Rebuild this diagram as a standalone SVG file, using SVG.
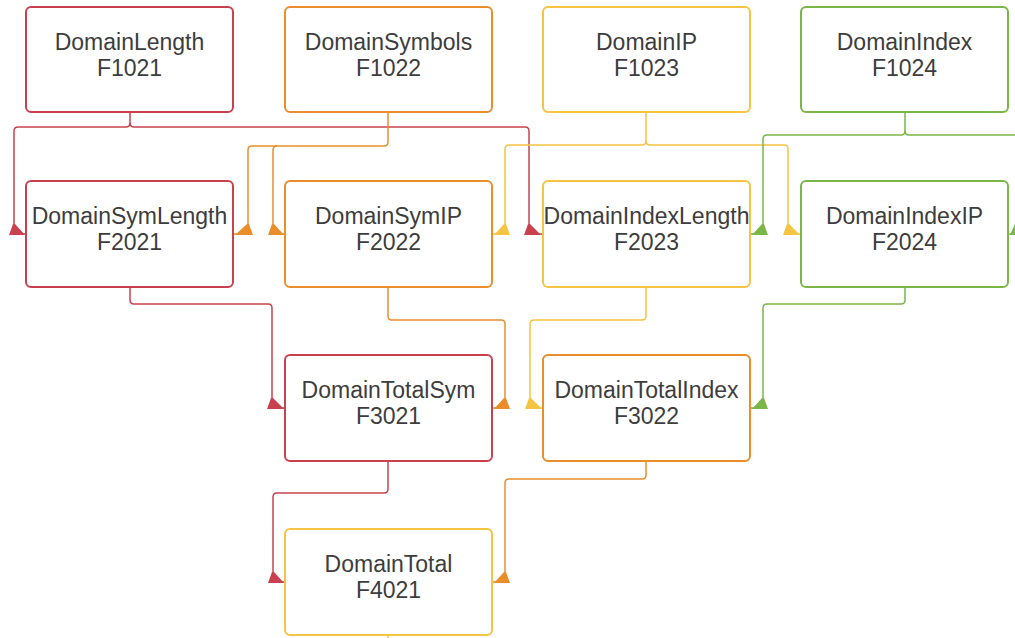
<svg xmlns="http://www.w3.org/2000/svg" width="1015" height="638" viewBox="0 0 1015 638">
  <style>
    .box { fill: #ffffff; stroke-width: 2; }
    .lbl { font-family: "Liberation Sans", Arial, sans-serif; font-size: 23px; fill: #3d3d3d; text-anchor: middle; }
    .wire { fill: none; stroke-width: 1.5; stroke-linejoin: round; }
    .red { stroke: #c9414e; }
    .org { stroke: #e98e2a; }
    .yel { stroke: #f6c443; }
    .grn { stroke: #7ab648; }
    .fred { fill: #c9414e; }
    .forg { fill: #e98e2a; }
    .fyel { fill: #f6c443; }
    .fgrn { fill: #7ab648; }
  </style>

  <!-- connectors -->
  <g id="connectors">
    <!-- DomainLength -> DomainSymLength, DomainIndexLength -->
    <path class="wire red" d="M130,112 V123 Q130,127 126,127 H18 Q14,127 14,131 V234 H26"/>
    <path class="wire red" d="M130,123 Q130,127 134,127 H525 Q529,127 529,131 V234 H543"/>
    <polygon class="fred" points="9,235 13,224 15,224 25,235"/>
    <polygon class="fred" points="524,235 528,224 530,224 541,235"/>

    <!-- DomainSymbols -> DomainSymLength, DomainSymIP -->
    <path class="wire org" d="M388,112 V142 Q388,146 384,146 H252 Q248,146 248,150 V234 H233"/>
    <path class="wire org" d="M277,146 Q273,146 273,150 V234 H285"/>
    <polygon class="forg" points="253,235 249,224 247,224 235,235"/>
    <polygon class="forg" points="268,235 272,224 274,224 284,235"/>

    <!-- DomainIP -> DomainSymIP, DomainIndexIP -->
    <path class="wire yel" d="M646,112 V141 Q646,145 642,145 H509 Q505,145 505,149 V234 H492"/>
    <path class="wire yel" d="M646,141 Q646,145 650,145 H784 Q788,145 788,149 V234 H801"/>
    <polygon class="fyel" points="510,235 506,224 504,224 494,235"/>
    <polygon class="fyel" points="783,235 787,224 789,224 800,235"/>

    <!-- DomainIndex -> DomainIndexLength, DomainIndexIP -->
    <path class="wire grn" d="M905,112 V131 Q905,135 901,135 H767 Q763,135 763,139 V234 H750"/>
    <path class="wire grn" d="M905,131 Q905,135 909,135 H1016 V234 H1008"/>
    <polygon class="fgrn" points="768,235 764,224 762,224 752,235"/>
    <polygon class="fgrn" points="1021,235 1017,224 1015,224 1010,235"/>

    <!-- row 2 -> row 3 -->
    <path class="wire red" d="M130,287 V300 Q130,304 134,304 H268 Q272,304 272,308 V408 H285"/>
    <polygon class="fred" points="267,409 271,398 273,398 284,409"/>
    <path class="wire org" d="M388,287 V316 Q388,320 392,320 H501 Q505,320 505,324 V408 H492"/>
    <polygon class="forg" points="510,409 506,398 504,398 494,409"/>
    <path class="wire yel" d="M646,287 V316 Q646,320 642,320 H534 Q530,320 530,324 V408 H543"/>
    <polygon class="fyel" points="525,409 529,398 531,398 542,409"/>
    <path class="wire grn" d="M905,287 V300 Q905,304 901,304 H767 Q763,304 763,308 V408 H750"/>
    <polygon class="fgrn" points="768,409 764,398 762,398 752,409"/>

    <!-- row 3 -> row 4 -->
    <path class="wire red" d="M388,461 V489 Q388,493 384,493 H277 Q273,493 273,497 V582 H285"/>
    <polygon class="fred" points="268,583 272,572 274,572 284,583"/>
    <path class="wire org" d="M646,461 V475 Q646,479 642,479 H509 Q505,479 505,483 V582 H492"/>
    <polygon class="forg" points="510,583 506,572 504,572 494,583"/>

    <!-- DomainTotal outgoing stub -->
    <path class="wire yel" d="M388,635 V640"/>
  </g>

  <!-- row 1 -->
  <g id="DomainLength">
    <rect class="box red" x="26" y="7" width="207" height="105" rx="5"/>
    <text class="lbl" x="129.5" y="50">DomainLength</text>
    <text class="lbl" x="129.5" y="76">F1021</text>
  </g>
  <g id="DomainSymbols">
    <rect class="box org" x="285" y="7" width="207" height="105" rx="5"/>
    <text class="lbl" x="388.5" y="50">DomainSymbols</text>
    <text class="lbl" x="388.5" y="76">F1022</text>
  </g>
  <g id="DomainIP">
    <rect class="box yel" x="543" y="7" width="207" height="105" rx="5"/>
    <text class="lbl" x="646.5" y="50">DomainIP</text>
    <text class="lbl" x="646.5" y="76">F1023</text>
  </g>
  <g id="DomainIndex">
    <rect class="box grn" x="801" y="7" width="207" height="105" rx="5"/>
    <text class="lbl" x="904.5" y="50">DomainIndex</text>
    <text class="lbl" x="904.5" y="76">F1024</text>
  </g>

  <!-- row 2 -->
  <g id="DomainSymLength">
    <rect class="box red" x="26" y="181" width="207" height="106" rx="5"/>
    <text class="lbl" x="129.5" y="224">DomainSymLength</text>
    <text class="lbl" x="129.5" y="250">F2021</text>
  </g>
  <g id="DomainSymIP">
    <rect class="box org" x="285" y="181" width="207" height="106" rx="5"/>
    <text class="lbl" x="388.5" y="224">DomainSymIP</text>
    <text class="lbl" x="388.5" y="250">F2022</text>
  </g>
  <g id="DomainIndexLength">
    <rect class="box yel" x="543" y="181" width="207" height="106" rx="5"/>
    <text class="lbl" x="646.5" y="224">DomainIndexLength</text>
    <text class="lbl" x="646.5" y="250">F2023</text>
  </g>
  <g id="DomainIndexIP">
    <rect class="box grn" x="801" y="181" width="207" height="106" rx="5"/>
    <text class="lbl" x="904.5" y="224">DomainIndexIP</text>
    <text class="lbl" x="904.5" y="250">F2024</text>
  </g>

  <!-- row 3 -->
  <g id="DomainTotalSym">
    <rect class="box red" x="285" y="355" width="207" height="106" rx="5"/>
    <text class="lbl" x="388.5" y="398">DomainTotalSym</text>
    <text class="lbl" x="388.5" y="424">F3021</text>
  </g>
  <g id="DomainTotalIndex">
    <rect class="box org" x="543" y="355" width="207" height="106" rx="5"/>
    <text class="lbl" x="646.5" y="398">DomainTotalIndex</text>
    <text class="lbl" x="646.5" y="424">F3022</text>
  </g>

  <!-- row 4 -->
  <g id="DomainTotal">
    <rect class="box yel" x="285" y="529" width="207" height="106" rx="5"/>
    <text class="lbl" x="388.5" y="572">DomainTotal</text>
    <text class="lbl" x="388.5" y="598">F4021</text>
  </g>
</svg>
